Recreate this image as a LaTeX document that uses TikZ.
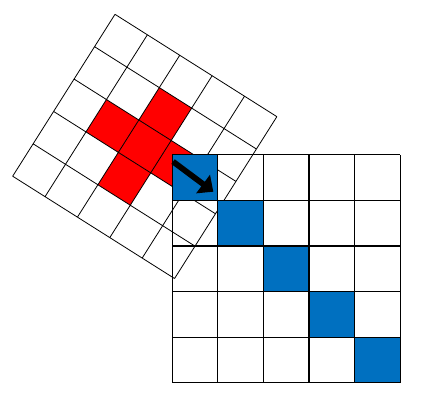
\documentclass[tikz,border=0pt]{standalone}
\usepackage{tikz}
\usetikzlibrary{arrows.meta}
\definecolor{cellblue}{RGB}{0,112,192}

\begin{document}
\begin{tikzpicture}[
	kernelgrid/.style={line width=0.5pt, black},
	imagegrid/.style={line width=0.75pt, black},
	slide/.style={line width=3.6pt, -{Triangle[length=8pt, width=14pt]}}]
	\useasboundingbox (0,0) rectangle (9.276,8.794);
	
	% Rotated kernel
	\begin{scope}[shift={(2.522,8.480)}, rotate=-32.3, scale=0.84]
		\foreach \u/\v in {1/2, 2/1, 2/2, 2/3, 3/2} {
			\fill[red] (\u,-\v) rectangle ++(1,-1);
		}
		\draw[kernelgrid] (0,-5) grid (5,0);
	\end{scope}
	
	% Image with diagonal
	\begin{scope}[shift={(3.778,0.401)}]
		\foreach \i in {0,...,4} {
			\fill[cellblue] (\i,5-\i) rectangle ++(1,-1);
		}
		\draw[imagegrid] (0,0) grid (5,5);
	\end{scope}
	
	% Sliding direction
	\coordinate (slidefrom) at (3.794,5.250);
	\coordinate (slideto) at (4.678,4.590);
	\draw[slide] (slidefrom) -- (slideto);
\end{tikzpicture}
\end{document}
